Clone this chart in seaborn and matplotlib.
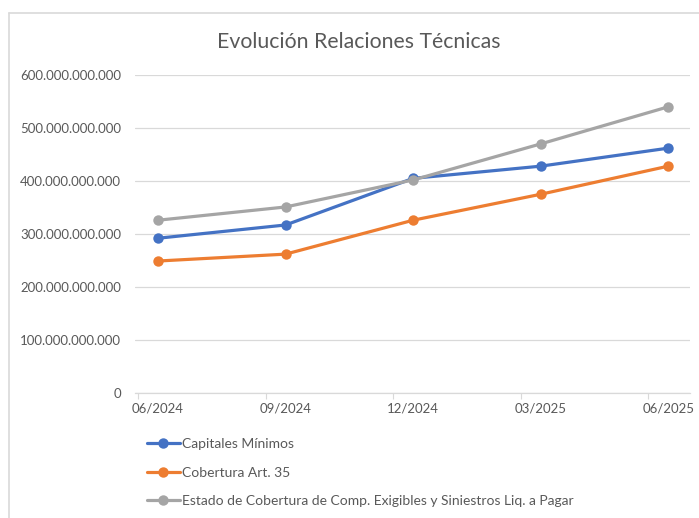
import matplotlib
matplotlib.use("Agg")
import matplotlib.pyplot as plt
import seaborn as sns
import pandas as pd
from matplotlib.ticker import FuncFormatter, FixedLocator
from matplotlib.lines import Line2D

periods = ["06/2024", "09/2024", "12/2024", "03/2025", "06/2025"]
capitales_minimos = [292e9, 317e9, 405e9, 428e9, 462e9]
cobertura_art35 = [249e9, 262e9, 326e9, 375e9, 428e9]
estado_cobertura = [326e9, 351e9, 402e9, 470e9, 540e9]
series_names = ["Capitales Mínimos", "Cobertura Art. 35",
                "Estado de Cobertura de Comp. Exigibles y Siniestros Liq. a Pagar"]
colors = ["#4472C4", "#ED7D31", "#A5A5A5"]
title = "Evolución Relaciones Técnicas"

rows = []
for name, vals in zip(series_names, [capitales_minimos, cobertura_art35, estado_cobertura]):
    for i, v in enumerate(vals):
        rows.append({"pos": i, "value": v, "serie": name})
df = pd.DataFrame(rows)

sns.set_theme(style="white")
plt.rcParams['font.family'] = ['Lato', 'DejaVu Sans']

fig = plt.figure(figsize=(6.99, 5.18), dpi=100)
ax = fig.add_axes([135/699, 1-393/518, (690-135)/699, (393-75)/518])

sns.lineplot(data=df, x="pos", y="value", hue="serie", palette=colors,
             hue_order=series_names, marker="o", markersize=7.5, markeredgewidth=0,
             linewidth=2.3, legend=False, ax=ax, zorder=3)

ax.set_ylim(0, 600e9)
ax.set_xlim(-0.18, 4.17)
ax.set_yticks([i*100e9 for i in range(7)])
ax.yaxis.set_major_formatter(FuncFormatter(lambda v, p: f"{int(round(v)):,}".replace(",", ".")))
ax.grid(axis="y", color="#D9D9D9", linewidth=0.9, zorder=0)
ax.set_xticks(range(len(periods)))
ax.set_xticklabels(periods)
ax.xaxis.set_minor_locator(FixedLocator([i - 0.157 for i in range(len(periods))]))
ax.tick_params(axis="x", which="major", length=0, pad=7, labelsize=9.5, labelcolor="#595959")
ax.tick_params(axis="x", which="minor", length=4, width=0.8, color="#D9D9D9", bottom=True)
ax.tick_params(axis="y", length=0, pad=10, labelsize=9.5, labelcolor="#595959")
ax.set_xlabel("")
ax.set_ylabel("")
for s in ["top", "right", "left"]:
    ax.spines[s].set_visible(False)
ax.spines["bottom"].set_color("#D9D9D9")
ax.spines["bottom"].set_linewidth(0.9)

fig.text(359/699, 1-42/518, title, ha="center", va="center", fontsize=15.3, color="#595959")

handles = [Line2D([0], [0], color=c, linewidth=2.3, marker="o", markersize=7.5, markeredgewidth=0)
           for c in colors]
fig.legend(handles, series_names, loc="upper left", bbox_to_anchor=(147/699, 1-438/518),
           frameon=False, borderpad=0, borderaxespad=0, handlelength=2.35, handletextpad=0.15,
           labelspacing=1.2, fontsize=10, labelcolor="#595959")

# chart border (top and left)
fig.add_artist(Line2D([9/699, 1], [1-13/518, 1-13/518], color="#D9D9D9", linewidth=1.2))
fig.add_artist(Line2D([9/699, 9/699], [0, 1-13/518], color="#D9D9D9", linewidth=1.2))

fig.savefig("out.png", dpi=100)
